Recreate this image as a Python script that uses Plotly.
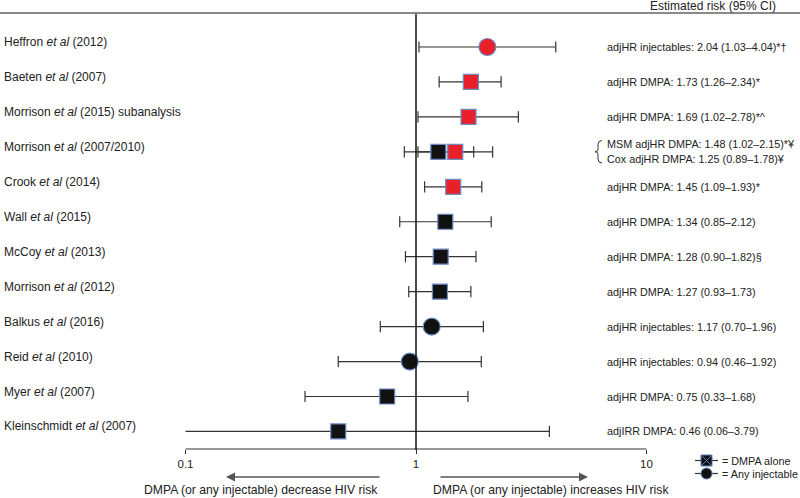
import plotly.graph_objects as go

# ---------------- data ----------------
studies = ["Heffron", "Baeten", "Morrison", "Morrison", "Crook", "Wall", "McCoy",
           "Morrison", "Balkus", "Reid", "Myer", "Kleinschmidt"]
years = ["(2012)", "(2007)", "(2015) subanalysis", "(2007/2010)", "(2014)", "(2015)",
         "(2013)", "(2012)", "(2016)", "(2010)", "(2007)", "(2007)"]
estimate = [2.04, 1.73, 1.69, 1.48, 1.45, 1.34, 1.28, 1.27, 1.17, 0.94, 0.75, 0.46]
ci_low = [1.03, 1.26, 1.02, 1.02, 1.09, 0.85, 0.90, 0.93, 0.70, 0.46, 0.33, 0.06]
ci_high = [4.04, 2.34, 2.78, 2.15, 1.93, 2.12, 1.82, 1.73, 1.96, 1.92, 1.68, 3.79]
exposure = ["injectable", "DMPA", "DMPA", "DMPA", "DMPA", "DMPA", "DMPA", "DMPA",
            "injectable", "injectable", "DMPA", "DMPA"]
significant = [True, True, True, True, True, False, False, False, False, False, False, False]
measure = ["adjHR injectables", "adjHR DMPA", "adjHR DMPA", "MSM adjHR DMPA", "adjHR DMPA",
           "adjHR DMPA", "adjHR DMPA", "adjHR DMPA", "adjHR injectables", "adjHR injectables",
           "adjHR DMPA", "adjIRR DMPA"]
footnote = ["*†", "*", "*^", "*¥", "*", "", "§", "", "", "", "", ""]

# second estimate shown on the Morrison (2007/2010) row
extra_row = 3
extra_estimate = 1.25
extra_low = 0.89
extra_high = 1.78
extra_measure = "Cox adjHR DMPA"
extra_footnote = "¥"

tick_values = [0.1, 1, 10]
tick_labels = ["0.1", "1", "10"]

# ---------------- layout helpers ----------------
W, H = 800, 498
def PX(p):
    return p / W
def PY(p):
    return 1 - p / H

AXIS_MIN, AXIS_MAX = 0.1, 10
RED = "#e8202a"
BLACK = "#111111"
EDGE = "#6c8cc4"
LINE = "#333333"
FONT = "Liberation Sans, Arial, Helvetica, sans-serif"

rows = list(range(len(studies)))

fig = go.Figure()

# CI lines
xs, ys, capx, capy = [], [], [], []
def add_ci(lo, hi, r):
    xs.extend([max(lo, AXIS_MIN), hi, None])
    ys.extend([r, r, None])
    if lo >= AXIS_MIN:
        capx.append(lo); capy.append(r)
    capx.append(hi); capy.append(r)

for r in rows:
    add_ci(ci_low[r], ci_high[r], r)
add_ci(extra_low, extra_high, extra_row)

fig.add_trace(go.Scatter(x=xs, y=ys, mode="lines", line=dict(color=LINE, width=1.2),
                         hoverinfo="skip", showlegend=False))
fig.add_trace(go.Scatter(x=capx, y=capy, mode="markers",
                         marker=dict(symbol="line-ns", size=8, opacity=1,
                                     line=dict(color=LINE, width=1.2)),
                         hoverinfo="skip", showlegend=False))

# point estimates
pts_x = [extra_estimate] + estimate
pts_y = [extra_row] + rows
pts_sym = ["square"] + ["circle" if e == "injectable" else "square" for e in exposure]
pts_col = [BLACK] + [RED if s else BLACK for s in significant]
pts_size = [15] + [17 if e == "injectable" else 15 for e in exposure]
fig.add_trace(go.Scatter(x=pts_x, y=pts_y, mode="markers",
                         marker=dict(symbol=pts_sym, color=pts_col, size=pts_size, opacity=1,
                                     line=dict(color=EDGE, width=1.2)),
                         showlegend=False))

# ---------------- axes ----------------
x_one_px, decade_px = 416, 230.5
xr = [(0 - x_one_px) / decade_px, (W - x_one_px) / decade_px]
row0_px, row_step = 47, 34.95
yr = [(H - row0_px) / row_step, (0 - row0_px) / row_step]

fig.update_layout(
    width=W, height=H, margin=dict(l=0, r=0, t=0, b=0),
    paper_bgcolor="white", plot_bgcolor="white",
    font=dict(family=FONT, color="#222222"),
    xaxis=dict(type="log", range=xr, domain=[0, 1], anchor="free", position=PY(449),
               tickvals=tick_values, ticktext=tick_labels, ticks="outside", ticklen=4,
               tickcolor=LINE, tickwidth=1.2, showline=False, showgrid=False, zeroline=False,
               tickfont=dict(size=11.5, color="#222222")),
    yaxis=dict(range=yr, visible=False, domain=[0, 1]),
    xaxis2=dict(range=[0, 1], overlaying="x", visible=False),
    yaxis2=dict(range=[0, 1], overlaying="y", visible=False),
)

# axis line 0.1 - 10
fig.add_shape(type="line", xref="x", yref="paper", x0=AXIS_MIN, x1=AXIS_MAX,
              y0=PY(449), y1=PY(449), line=dict(color=LINE, width=1.2))
# null line at 1
fig.add_shape(type="line", xref="x", yref="paper", x0=1, x1=1, y0=PY(450), y1=PY(13),
              line=dict(color="#111111", width=1.5))
# top rule
fig.add_shape(type="line", xref="paper", yref="paper", x0=0, x1=1, y0=PY(13), y1=PY(13),
              line=dict(color="#8a8a8a", width=2))
fig.add_annotation(text="Estimated risk (95% CI)", xref="paper", yref="paper",
                   x=PX(778), y=PY(5.5), xanchor="right", yanchor="middle", showarrow=False,
                   font=dict(size=12))

# study labels
for r in rows:
    fig.add_annotation(text=f"{studies[r]} <i>et al</i> {years[r]}", xref="paper", yref="y",
                       x=PX(2), y=r, yshift=5, xanchor="left", yanchor="middle",
                       showarrow=False, font=dict(size=12))

# estimate notes
def note(m, e, lo, hi, f):
    return f"{m}: {e:.2f} ({lo:.2f}–{hi:.2f}){f}"

NOTE_SIZE = 10.8
for r in rows:
    if r == extra_row:
        continue
    fig.add_annotation(text=note(measure[r], estimate[r], ci_low[r], ci_high[r], footnote[r]),
                       xref="paper", yref="y", x=PX(605), y=r, xanchor="left", yanchor="middle",
                       showarrow=False, font=dict(size=NOTE_SIZE))
fig.add_annotation(text=note(measure[extra_row], estimate[extra_row], ci_low[extra_row],
                             ci_high[extra_row], footnote[extra_row]),
                   xref="paper", yref="y", x=PX(605), y=extra_row, yshift=8,
                   xanchor="left", yanchor="middle", showarrow=False, font=dict(size=NOTE_SIZE))
fig.add_annotation(text=note(extra_measure, extra_estimate, extra_low, extra_high, extra_footnote),
                   xref="paper", yref="y", x=PX(605), y=extra_row, yshift=-7,
                   xanchor="left", yanchor="middle", showarrow=False, font=dict(size=NOTE_SIZE))
# brace
bx, bt, bb = 602, 140.5, 163
bm = (bt + bb) / 2
brace = (f"M {PX(bx)},{PY(bt)} Q {PX(bx-4)},{PY(bt)} {PX(bx-4)},{PY(bt+4)} "
         f"L {PX(bx-4)},{PY(bm-2.5)} Q {PX(bx-4)},{PY(bm)} {PX(bx-7)},{PY(bm)} "
         f"Q {PX(bx-4)},{PY(bm)} {PX(bx-4)},{PY(bm+2.5)} "
         f"L {PX(bx-4)},{PY(bb-4)} Q {PX(bx-4)},{PY(bb)} {PX(bx)},{PY(bb)}")
fig.add_shape(type="path", xref="paper", yref="paper", path=brace,
              line=dict(color="#333333", width=1))

# direction arrows and captions
fig.add_annotation(xref="paper", yref="paper", x=PX(226), y=PY(477), ax=381 - 226, ay=0,
                   axref="pixel", ayref="pixel", text="", showarrow=True, arrowhead=2,
                   arrowsize=1.2, arrowwidth=1.5, arrowcolor="#555555")
fig.add_annotation(xref="paper", yref="paper", x=PX(588), y=PY(477), ax=439 - 588, ay=0,
                   axref="pixel", ayref="pixel", text="", showarrow=True, arrowhead=2,
                   arrowsize=1.2, arrowwidth=1.5, arrowcolor="#555555")
fig.add_annotation(text="DMPA (or any injectable) decrease HIV risk", xref="paper", yref="paper",
                   x=PX(261), y=PY(490), xanchor="center", yanchor="middle", showarrow=False,
                   font=dict(size=12.2))
fig.add_annotation(text="DMPA (or any injectable) increases HIV risk", xref="paper", yref="paper",
                   x=PX(551), y=PY(490), xanchor="center", yanchor="middle", showarrow=False,
                   font=dict(size=12.2))

# key
key_y = [PY(460.5), PY(473.5)]
for ky, sym in zip(key_y, ["square-x", "circle"]):
    fig.add_trace(go.Scatter(x=[PX(695), PX(718)], y=[ky, ky], xaxis="x2", yaxis="y2",
                             mode="lines", line=dict(color=LINE, width=1.2),
                             hoverinfo="skip", showlegend=False))
    fig.add_trace(go.Scatter(x=[PX(706.5)], y=[ky], xaxis="x2", yaxis="y2", mode="markers",
                             marker=dict(symbol=sym, size=11, color=BLACK, opacity=1,
                                         line=dict(color="#5d7fb3", width=1)),
                             hoverinfo="skip", showlegend=False))
fig.add_annotation(text="= DMPA alone", xref="paper", yref="paper", x=PX(720), y=key_y[0],
                   xanchor="left", yanchor="middle", showarrow=False, font=dict(size=10.8))
fig.add_annotation(text="= Any injectable", xref="paper", yref="paper", x=PX(720), y=key_y[1],
                   xanchor="left", yanchor="middle", showarrow=False, font=dict(size=10.8))

fig.write_html("out.html", config={"displayModeBar": False},
               post_script="document.body.style.margin='0px';")
